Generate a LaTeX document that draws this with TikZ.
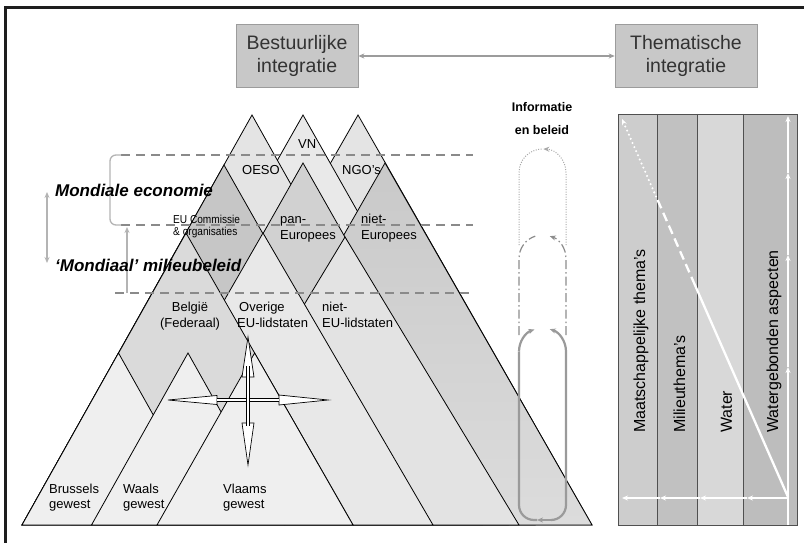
\documentclass[tikz,border=0pt]{standalone}
\usepackage{fontspec}
\setmainfont{Liberation Sans}
\newfontfamily\narrowsf{Liberation Sans}[FakeStretch=0.88]
\usetikzlibrary{arrows.meta}

\newcommand\fs[1]{\fontsize{#1}{#1}\selectfont}

\definecolor{frameC}{HTML}{1E1E1E}
\definecolor{boxC}{HTML}{C8C8C8}
\definecolor{boxD}{HTML}{9C9C9C}
\definecolor{textC}{HTML}{333333}
\definecolor{dashC}{HTML}{8A8A8A}
\definecolor{brkC}{HTML}{B4B4B4}
\definecolor{ngoC}{HTML}{E4E4E4}
\definecolor{vnC}{HTML}{E9E9E9}
\definecolor{oesoC}{HTML}{E4E4E4}
\definecolor{nieC}{HTML}{C9C9C9}
\definecolor{nieD}{HTML}{DCDCDC}
\definecolor{panC}{HTML}{D1D1D1}
\definecolor{euC}{HTML}{C6C6C6}
\definecolor{nlC}{HTML}{E3E3E3}
\definecolor{ovC}{HTML}{E8E8E8}
\definecolor{beC}{HTML}{DADADA}
\definecolor{gwC}{HTML}{EFEFEF}
\definecolor{loopA}{HTML}{A8A8A8}
\definecolor{loopB}{HTML}{8C8C8C}
\definecolor{loopC}{HTML}{9A9A9A}
\definecolor{colA}{HTML}{CDCDCD}
\definecolor{colB}{HTML}{C1C1C1}
\definecolor{colC}{HTML}{D8D8D8}
\definecolor{colD}{HTML}{BDBDBD}
\definecolor{sepC}{HTML}{505050}

\begin{document}
\begin{tikzpicture}[x=1pt,y=-1pt,
  pyr/.style={draw=black, line width=0.8pt, line join=miter},
  lvl/.style={draw=dashC, line width=1.6pt, dash pattern=on 9pt off 6pt},
  brk/.style={draw=brkC, line width=1.3pt},
  tipS/.style={-{Stealth[length=6pt,width=5pt]}},
  lbl/.style={inner sep=0pt, anchor=base west, font=\fs{13}},
  lblc/.style={inner sep=0pt, anchor=base, font=\fs{13}},
  small/.style={inner sep=0pt, anchor=base west, font=\narrowsf\fs{11.5}},
  big/.style={inner sep=0pt, anchor=base west, font=\bfseries\itshape\fs{17}},
  hbox/.style={fill=boxC, draw=boxD, line width=0.6pt, minimum height=63pt,
    align=center, font=\fontsize{19.5}{23}\selectfont, text=textC, inner sep=0pt},
  harrow/.style={draw=boxD, line width=1.2pt,
    {Stealth[length=6pt,width=5pt]}-{Stealth[length=6pt,width=5pt]}},
  info/.style={inner sep=0pt, anchor=base, font=\bfseries\fs{12.5}},
  col/.style={inner sep=0pt, anchor=west, rotate=90, font=\fs{16}},
  wl/.style={draw=white, line width=2.3pt},
  sep/.style={draw=sepC, line width=0.8pt},
  head/.style={draw=black, fill=white, line width=0.7pt, line join=miter},
]
\useasboundingbox (0,0) rectangle (804,543);
\fill[white] (0,0) rectangle (804,543);

% page frame: top and left rules
\draw[frameC, line width=3pt, line cap=rect] (5,543) -- (5,8) -- (804,8);

% header boxes
\node[hbox, minimum width=122pt] (bestuur) at (297,56) {Bestuurlijke\\integratie};
\node[hbox, minimum width=142pt] (thema) at (686,56) {Thematische\\integratie};
\draw[harrow] (bestuur) -- (thema);

% pyramids, painted back to front
% world level
\filldraw[pyr, fill=ngoC]  (358,115) -- (592,525) -- (124,525) -- cycle;
\filldraw[pyr, fill=vnC]   (303,115) -- (535,525) -- (71,525) -- cycle;
\filldraw[pyr, fill=oesoC] (252,115) -- (482,525) -- (22,525) -- cycle;
% European level
\shade[top color=nieC, bottom color=nieD] (385,163) -- (592,525) -- (178,525) -- cycle;
\draw[pyr] (385,163) -- (592,525) -- (178,525) -- cycle;
\filldraw[pyr, fill=panC]  (303,163) -- (508,525) -- (98,525) -- cycle;
\filldraw[pyr, fill=euC]   (224,165) -- (428,525) -- (22,525) -- cycle;
% national level
\filldraw[pyr, fill=nlC]   (345,237) -- (519,525) -- (171,525) -- cycle;
\filldraw[pyr, fill=ovC]   (263,233) -- (433,525) -- (95,525) -- cycle;
\filldraw[pyr, fill=beC]   (186,233) -- (353,525) -- (22,525) -- cycle;
% regional level
\filldraw[pyr, fill=gwC]   (118.5,353) -- (215,525) -- (22,525) -- cycle;
\filldraw[pyr, fill=gwC]   (188,353) -- (284.5,525) -- (91.5,525) -- cycle;
\filldraw[pyr, fill=gwC]   (254.6,353) -- (353,525) -- (157,525) -- cycle;

% level boundaries
\draw[lvl] (121,155) -- (473,155);
\draw[lvl] (121,225) -- (473,225);
\draw[lvl] (115,293) -- (473,293);
\draw[brk, rounded corners=6pt] (121,155) -- (110,155) -- (110,225) -- (121,225);
\draw[brk, -{Stealth[length=6pt,width=5pt]}] (127,293) -- (127,227);
\draw[brk, {Stealth[length=6pt,width=5pt]}-{Stealth[length=6pt,width=5pt]}] (47,192) -- (47,263);

\node[big] (econ) at (55,196) {Mondiale economie};
\node[big] (milieu) at (55,271) {‘Mondiaal’ milieubeleid};

% pyramid labels
\node[lbl] (vn) at (298,148) {VN};
\node[lbl] (oeso) at (242,175) {OESO};
\node[lbl] (ngo) at (342,175) {NGO’s};
\node[small] (eu1) at (173,223) {EU Commissie};
\node[small] (eu2) at (173,235) {\& organisaties};
\node[lbl] (pan1) at (280,223.5) {pan-};
\node[lbl] (pan2) at (280,239) {Europees};
\node[lbl] (ne1) at (361,223.5) {niet-};
\node[lbl] (ne2) at (361,239) {Europees};
\node[lblc] (be1) at (190,311.5) {België};
\node[lblc] (be2) at (190,327) {(Federaal)};
\node[lbl] (ov1) at (239,311.5) {Overige};
\node[lbl] (ov2) at (237,327) {EU-lidstaten};
\node[lbl] (nl1) at (322,311.5) {niet-};
\node[lbl] (nl2) at (322,327) {EU-lidstaten};
\node[lbl] (br1) at (49,493) {Brussels};
\node[lbl] (br2) at (49,508) {gewest};
\node[lbl] (wa1) at (123,493) {Waals};
\node[lbl] (wa2) at (123,508) {gewest};
\node[lbl] (vl1) at (223,493) {Vlaams};
\node[lbl] (vl2) at (223,508) {gewest};

% cross of arrows
\filldraw[head] (248,337) -- (254,377) -- (242,377) -- cycle;
\filldraw[head] (248,465) -- (254,423) -- (242,423) -- cycle;
\filldraw[head] (168,400) -- (217,395.5) -- (217,404.5) -- cycle;
\filldraw[head] (328,400) -- (279,395) -- (279,405) -- cycle;
\draw[line width=1.1pt, double=white, double distance=1.3pt] (217,400) -- (279,400);
\draw[line width=1.6pt, double=white, double distance=1.4pt] (248,366) -- (248,426);

% information and policy loops
\node[info] (inf1) at (542,111) {Informatie};
\node[info] (inf2) at (542,134) {en beleid};
\draw[loopA, line width=1pt, dash pattern=on 1pt off 1.5pt]
  (519,245) -- (519,172.5) arc[start angle=180, end angle=268, radius=23.5];
\draw[loopA, line width=1pt, dash pattern=on 1pt off 1.5pt, tipS]
  (566,245) -- (566,172.5) arc[start angle=360, end angle=272, radius=23.5];
\draw[loopB, line width=1.2pt, dash pattern=on 9pt off 3pt on 1.5pt off 3pt]
  (519,335) -- (519,258.5) arc[start angle=180, end angle=252, radius=23.5];
\draw[loopB, line width=1.2pt, dash pattern=on 9pt off 3pt on 1.5pt off 3pt, tipS]
  (566,335) -- (566,258.5) arc[start angle=360, end angle=288, radius=23.5];
\draw[loopC, line width=2.2pt, tipS]
  (519,351.5) arc[start angle=180, end angle=250, radius=23.5];
\draw[loopC, line width=2.2pt]
  (519,351.5) -- (519,505) arc[start angle=180, end angle=90, radius=15] -- (537,520);
\draw[loopC, line width=2.2pt, tipS]
  (551,520) -- (537,520);
\draw[loopC, line width=2.2pt, tipS]
  (551,520) arc[start angle=90, end angle=0, radius=15] -- (566,351.5)
  arc[start angle=360, end angle=288, radius=23.5];

% thematic columns
\fill[colA] (618,114) rectangle (657,525);
\fill[colB] (657,114) rectangle (697,525);
\fill[colC] (697,114) rectangle (743,525);
\fill[colD] (743,114) rectangle (797,525);
\draw[sep] (618,114) rectangle (797,525);
\draw[sep] (657,114) -- (657,525);
\draw[sep] (697,114) -- (697,525);
\draw[sep] (743,114) -- (743,525);

\node[col] (mt) at (641,433) {Maatschappelijke thema’s};
\node[col] (mi) at (679.5,433) {Milieuthema’s};
\node[col] (wa) at (726.5,433) {Water};
\node[col] (wg) at (774,433) {Watergebonden aspecten};

% white flow lines
\draw[wl, tipS] (788,525) -- (788,367);
\draw[wl, tipS] (788,367) -- (788,255);
\draw[wl, tipS] (788,255) -- (788,173);
\draw[wl, tipS] (788,173) -- (788,116);
\draw[wl, tipS] (788,498) -- (747,498);
\draw[wl, tipS] (747,498) -- (700,498);
\draw[wl, tipS] (700,498) -- (660,498);
\draw[wl, tipS] (660,498) -- (622,498);
\coordinate (d0) at (622,119);
\coordinate (d1) at (657.6,200);
\coordinate (d2) at (693.6,282);
\coordinate (d3) at (788,497);
\draw[wl, line cap=round, dash pattern=on 0pt off 4.5pt, {Stealth[length=6pt,width=5pt]}-] (d0) -- (d1);
\draw[wl, dash pattern=on 9pt off 5pt] (d1) -- (d2);
\draw[wl] (d2) -- (d3);
\end{tikzpicture}
\end{document}
